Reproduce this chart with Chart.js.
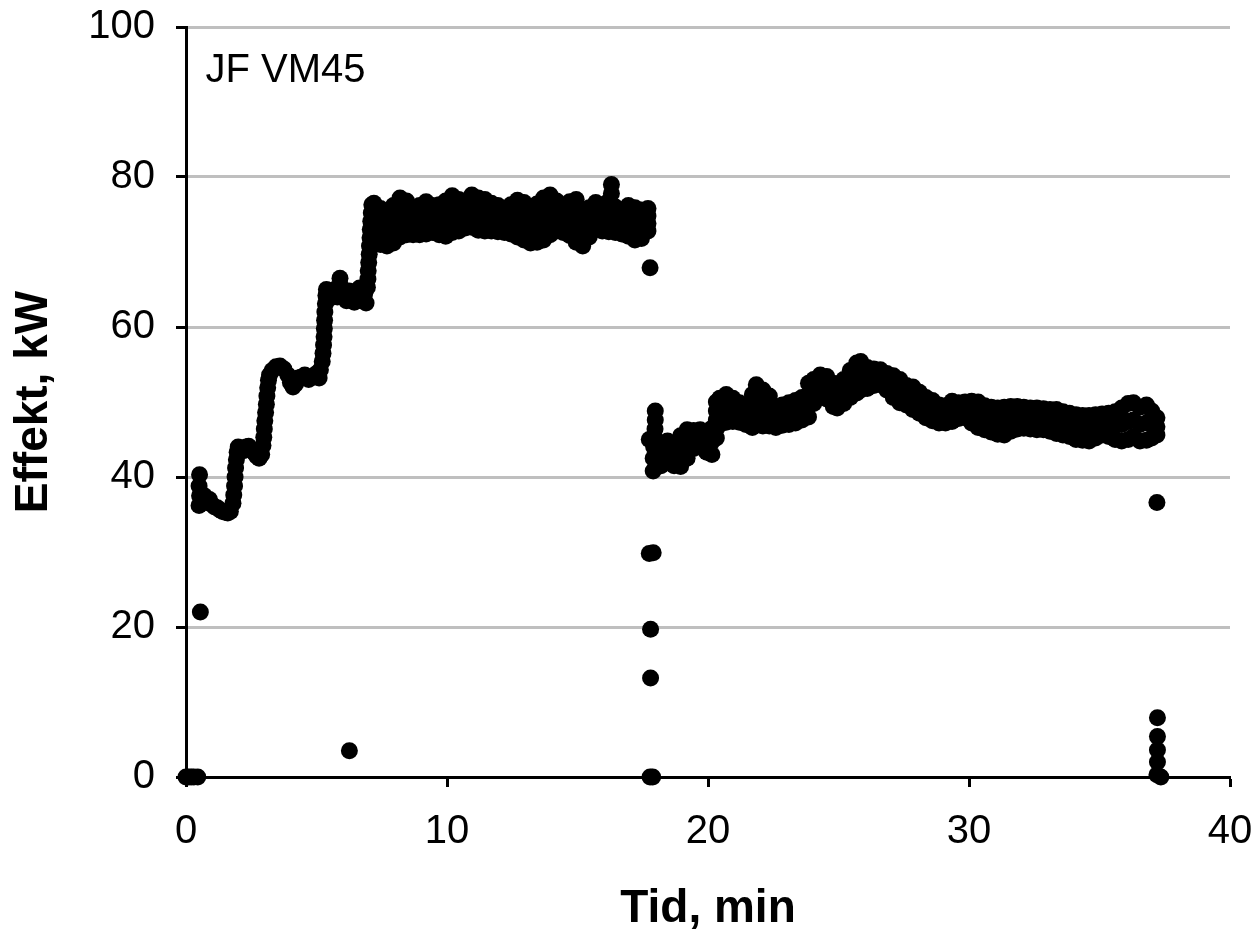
<!DOCTYPE html>
<html>
<head>
<meta charset="utf-8">
<script src="https://cdn.jsdelivr.net/npm/chart.js@4.4.1/dist/chart.umd.min.js"></script>
<style>
  html, body { margin: 0; padding: 0; background: #fff; }
  canvas { display: block; }
</style>
</head>
<body>
<canvas id="c" width="1256" height="932" style="width:1256px;height:932px"></canvas>
<script>
// ---------- data ----------
const xTitle = 'Tid, min';
const yTitle = 'Effekt, kW';
const panelLabel = 'JF VM45';
const xTicks = [0, 10, 20, 30, 40];
const yTicks = [0, 20, 40, 60, 80, 100];

// idle at start
const idleTime  = [0, 0.1, 0.2, 0.3, 0.45];
const idlePower = [0, 0, 0, 0, 0];

// start-up ramp (min, kW)
const rampTime = [0.52, 0.5, 0.52, 0.5, 0.7, 0.8, 0.9, 1.0, 1.1, 1.2, 1.3, 1.4, 1.5, 1.6, 1.7,
  1.8, 1.83, 1.86, 1.88, 1.9, 1.93, 1.96, 2.0,
  2.1, 2.2, 2.3, 2.4, 2.5, 2.6, 2.7, 2.8, 2.9,
  2.95, 2.98, 3.0, 3.02, 3.05, 3.08, 3.1, 3.13, 3.16, 3.2,
  3.3, 3.45, 3.6, 3.75, 3.9, 4.0, 4.1, 4.2, 4.3, 4.4, 4.55, 4.7, 4.85, 5.0, 5.1, 5.15,
  5.22, 5.25, 5.27, 5.29, 5.3, 5.31, 5.32, 5.34, 5.36, 5.38,
  5.45, 5.5, 5.6, 5.7, 5.8, 5.9, 5.95, 6.05, 6.15, 6.25, 6.35, 6.45, 6.55, 6.65, 6.75, 6.85, 6.9,
  6.95, 6.97, 6.98, 7.0, 7.02, 7.03, 7.05, 7.06, 7.08, 7.1, 7.12];
const rampPower = [40.3, 38.8, 37.5, 36.2, 37.5, 36.6, 37.0, 36.3, 36.0, 35.9, 35.6, 35.4, 35.3, 35.2, 35.4,
  36.5, 37.6, 38.8, 40.0, 41.2, 42.3, 43.3, 44.0,
  43.8, 43.5, 44.0, 44.1, 43.6, 43.3, 42.8, 42.5, 43.0,
  44.2, 45.3, 46.4, 47.5, 48.6, 49.7, 50.8, 51.9, 52.9, 53.6,
  54.2, 54.7, 54.8, 54.4, 53.6, 52.6, 52.0, 52.4, 53.2, 53.3, 53.6, 53.0, 53.4, 53.8, 53.2, 54.3,
  55.4, 56.5, 57.6, 58.7, 59.8, 60.9, 62.0, 63.1, 64.2, 65.0,
  64.6, 63.8, 64.5, 65.0, 64.0, 66.5, 65.3, 64.2, 63.5, 64.8, 64.2, 63.3, 64.6, 65.2, 63.6, 64.5, 63.2,
  65.3, 66.4, 67.5, 68.6, 69.7, 70.8, 71.9, 73.0, 74.1, 75.2, 76.3];

// full-load plateau: readings grouped per time stamp
const plateauTime = [7.2, 7.45, 7.7, 7.95, 8.2, 8.45, 8.7, 8.95, 9.2, 9.45, 9.7, 9.95,
  10.2, 10.45, 10.7, 10.95, 11.2, 11.45, 11.7, 11.95, 12.2, 12.45, 12.7, 12.95,
  13.2, 13.45, 13.7, 13.95, 14.2, 14.45, 14.7, 14.95, 15.2, 15.45, 15.7, 15.95,
  16.2, 16.3, 16.45, 16.7, 16.95, 17.2, 17.45, 17.7];
const plateauPower = [
  [76.5, 74.8, 73.2, 71.5], [75.8, 74.3, 72.6, 71.0], [75.3, 73.9, 72.3, 70.8], [76.2, 74.6, 72.8, 71.2],
  [77.2, 75.6, 73.8, 72.0], [76.8, 75.2, 73.6, 72.3], [75.8, 74.5, 73.4, 72.3], [76.2, 74.9, 73.5, 72.3],
  [76.7, 75.2, 73.8, 72.4], [76.2, 74.8, 73.9, 72.6], [76.3, 74.9, 73.5, 72.3], [76.8, 75.1, 73.6, 72.1],
  [77.5, 75.8, 74.1, 72.6], [77.0, 75.5, 74.2, 72.8], [76.8, 75.6, 74.3, 73.2], [77.6, 76.1, 74.6, 73.3],
  [77.2, 75.7, 74.3, 72.9], [77.0, 75.6, 74.1, 72.8], [76.5, 75.2, 73.9, 72.8], [76.2, 74.9, 73.7, 72.7],
  [75.8, 74.7, 73.6, 72.6], [76.3, 74.9, 73.6, 72.4], [76.9, 75.2, 73.5, 72.0], [76.6, 74.9, 73.2, 71.6],
  [76.0, 74.4, 72.8, 71.2], [76.4, 74.7, 72.9, 71.3], [77.2, 75.4, 73.4, 71.6], [77.6, 75.9, 74.0, 72.3],
  [76.8, 75.4, 74.0, 72.8], [76.2, 74.9, 73.7, 72.6], [76.7, 75.1, 73.6, 72.2], [77.0, 75.0, 73.1, 71.3],
  [75.5, 73.9, 72.3, 70.8], [75.9, 74.6, 73.3, 72.0], [76.6, 75.4, 74.2, 73.0], [76.3, 75.1, 73.9, 72.8],
  [76.8, 75.3, 74.0, 72.7], [79.0, 77.8], [76.0, 74.9, 73.7, 72.6], [75.4, 74.3, 73.3, 72.4],
  [76.2, 74.8, 73.4, 72.1], [75.9, 74.4, 73.0, 71.6], [75.6, 74.3, 73.0, 71.8], [75.8, 74.8, 73.8, 72.8]];

// part-load period after the drop: readings grouped per time stamp
const partTime = [18.2, 18.45, 18.7, 18.95, 19.2, 19.45, 19.7, 19.95, 20.15, 20.32,
  20.45, 20.7, 20.95, 21.2, 21.45, 21.7, 21.85, 22.1, 22.35, 22.6, 22.85, 23.1, 23.35, 23.6,
  23.85, 24.05, 24.3, 24.55, 24.8, 24.95, 25.2, 25.45, 25.7, 25.85, 26.1, 26.35, 26.6, 26.85,
  27.1, 27.35, 27.6, 27.85, 28.1, 28.35, 28.6, 28.85, 29.1, 29.35, 29.6, 29.85,
  30.1, 30.35, 30.6, 30.85, 31.1, 31.35, 31.6, 31.85, 32.1, 32.35, 32.6, 32.85,
  33.1, 33.35, 33.6, 33.85, 34.1, 34.35, 34.6, 34.85, 35.1, 35.35, 35.6, 35.85,
  36.1, 36.3, 36.55, 36.8, 37.0, 37.2];
const partPower = [
  [44.5, 43.0, 41.5], [44.8, 43.4, 42.0], [44.3, 42.9, 41.5], [45.5, 43.4, 41.4],
  [46.3, 44.4, 42.5], [46.2, 45.0, 43.8], [46.3, 45.1, 44.0], [46.0, 44.6, 43.3],
  [46.5, 44.7, 43.0], [45.2, 46.4, 47.6, 48.8, 50.0],
  [50.5, 48.7, 47.0], [51.0, 49.1, 47.3], [50.5, 48.9, 47.4], [49.9, 48.6, 47.3],
  [49.6, 48.3, 47.0], [51.0, 49.4, 48.0, 46.6], [52.3, 50.7, 49.0, 47.0], [51.6, 50.0, 48.4, 46.8],
  [50.8, 49.4, 48.1, 46.8], [49.4, 48.0, 46.6], [49.6, 48.2, 46.9], [49.9, 48.4, 47.0],
  [50.2, 48.7, 47.2], [50.6, 49.1, 47.6],
  [52.5, 50.9, 49.4, 48.0], [53.0, 51.4, 49.8], [53.6, 52.1, 50.6], [53.4, 51.9, 50.4],
  [52.5, 50.9, 49.4], [51.9, 50.5, 49.2], [53.0, 51.4, 49.8], [54.2, 52.4, 50.6],
  [55.2, 53.2, 51.2], [55.4, 53.5, 51.6], [54.6, 53.2, 51.8], [54.4, 53.3, 52.2],
  [54.3, 53.3, 52.3], [53.8, 52.7, 51.6],
  [53.5, 52.0, 50.6], [53.0, 51.4, 49.9], [52.2, 50.9, 49.6], [52.0, 50.5, 49.0],
  [51.3, 49.9, 48.5], [50.6, 49.2, 47.9], [50.2, 48.8, 47.5], [49.6, 48.4, 47.2],
  [49.5, 48.3, 47.2], [50.1, 48.7, 47.4], [49.9, 48.8, 47.8], [50.0, 48.9, 47.9],
  [50.1, 48.6, 47.2], [50.0, 48.3, 46.6], [49.5, 47.9, 46.3], [49.3, 47.6, 46.0],
  [49.2, 47.4, 45.7], [49.3, 47.4, 45.6], [49.4, 47.7, 46.1], [49.4, 47.9, 46.4],
  [49.3, 47.9, 46.5], [49.2, 47.8, 46.4], [49.2, 47.7, 46.3], [49.1, 47.7, 46.3],
  [49.0, 47.5, 46.1], [49.0, 47.4, 45.8], [48.7, 47.1, 45.6], [48.5, 46.9, 45.4],
  [48.3, 46.6, 45.0], [48.2, 46.5, 44.9], [48.2, 46.5, 44.8], [48.3, 46.7, 45.2],
  [48.4, 47.0, 45.6], [48.5, 46.9, 45.4], [48.7, 46.8, 45.0], [49.2, 47.0, 44.8],
  [49.8, 47.4, 45.0], [49.9, 47.6, 45.4], [49.3, 47.0, 44.8], [49.6, 47.2, 44.9],
  [48.8, 47.0, 45.2], [47.9, 46.7, 45.6]];

// transients and stops
const transientTime = [0.55, 6.26,
  17.78, 17.75, 17.9, 17.8, 17.8, 17.78, 17.88,
  17.98, 17.98, 17.97, 17.75, 17.95, 17.92, 17.9, 17.9,
  37.2, 37.22, 37.22, 37.22, 37.22, 37.2, 37.35];
const transientPower = [22.0, 3.5,
  67.9, 29.8, 29.9, 19.7, 13.2, 0, 0,
  48.8, 47.6, 46.4, 45.0, 45.3, 44.0, 42.5, 40.8,
  36.6, 7.9, 5.4, 3.6, 2.0, 0.3, 0];

// ---------- build points ----------
const points = [];
function addFlat(ts, ps) { ts.forEach((t, i) => points.push({ x: t, y: ps[i] })); }
function addGrouped(ts, groups) { ts.forEach((t, i) => groups[i].forEach(v => points.push({ x: t, y: v }))); }
addFlat(idleTime, idlePower);
addFlat(rampTime, rampPower);
addGrouped(plateauTime, plateauPower);
addGrouped(partTime, partPower);
addFlat(transientTime, transientPower);

const FAMILY = '"Liberation Sans", Arial, Helvetica, sans-serif';

const labelPlugin = {
  id: 'panelLabel',
  afterDatasetsDraw(chart) {
    const { ctx, chartArea } = chart;
    ctx.save();
    ctx.font = '40px ' + FAMILY;
    ctx.fillStyle = '#000';
    ctx.textAlign = 'left';
    ctx.textBaseline = 'alphabetic';
    ctx.fillText(panelLabel, chartArea.left + 19.5, chartArea.top + 55);
    ctx.restore();
  }
};

new Chart(document.getElementById('c'), {
  type: 'scatter',
  data: {
    datasets: [{
      data: points,
      pointRadius: 8.5,
      pointHoverRadius: 8.5,
      backgroundColor: '#000',
      borderWidth: 0,
      showLine: false,
      clip: false
    }]
  },
  options: {
    responsive: false,
    animation: false,
    devicePixelRatio: 1,
    events: [],
    layout: { padding: { left: 0, right: 26, top: 27, bottom: 0 } },
    plugins: { legend: { display: false }, tooltip: { enabled: false } },
    scales: {
      x: {
        type: 'linear',
        min: xTicks[0],
        max: xTicks[xTicks.length - 1],
        afterFit: s => { s.height = 155; s.paddingLeft = 0; s.paddingRight = 0; },
        afterBuildTicks: s => { s.ticks = xTicks.map(v => ({ value: v })); },
        ticks: {
          font: { family: FAMILY, size: 40 },
          color: '#000',
          padding: 21,
          maxRotation: 0
        },
        grid: {
          drawOnChartArea: false,
          drawTicks: true,
          tickLength: 10,
          tickWidth: 3,
          tickColor: '#000'
        },
        border: { display: true, color: '#000', width: 3 },
        title: {
          display: true,
          text: xTitle,
          color: '#000',
          font: { family: FAMILY, size: 46, weight: 'bold', lineHeight: 1 },
          padding: { top: 0, bottom: 0 }
        }
      },
      y: {
        type: 'linear',
        min: yTicks[0],
        max: yTicks[yTicks.length - 1],
        afterFit: s => { s.width = 186; s.paddingTop = 0; s.paddingBottom = 0; },
        afterBuildTicks: s => { s.ticks = yTicks.map(v => ({ value: v })); },
        ticks: {
          font: { family: FAMILY, size: 40 },
          color: '#000',
          padding: 21
        },
        grid: {
          color: c => (c.tick && c.tick.value === 0) ? 'rgba(0,0,0,0)' : '#bfbfbf',
          lineWidth: 3,
          drawTicks: true,
          tickLength: 10,
          tickWidth: 3,
          tickColor: '#000'
        },
        border: { display: true, color: '#000', width: 3 },
        title: {
          display: true,
          text: yTitle,
          color: '#000',
          font: { family: FAMILY, size: 46, weight: 'bold', lineHeight: 1 },
          padding: { top: 11, bottom: 0 }
        }
      }
    }
  },
  plugins: [labelPlugin]
});
</script>
</body>
</html>
